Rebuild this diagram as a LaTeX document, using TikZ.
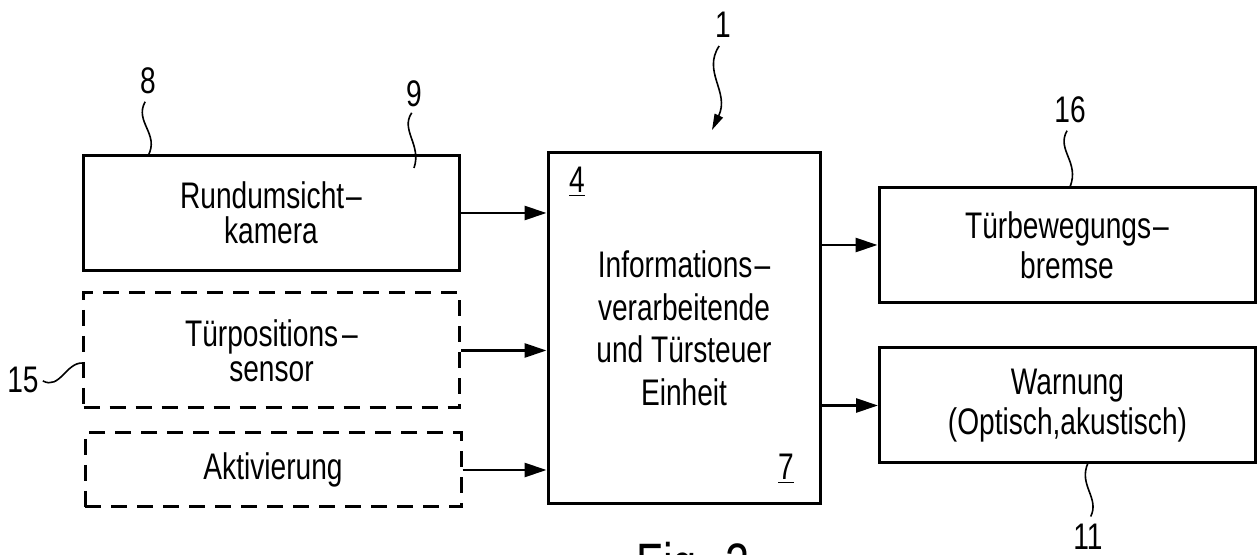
\documentclass[tikz,border=0pt]{standalone}
\usepackage{fontspec}
\setmainfont{Liberation Sans}[FakeStretch=0.76]
\usetikzlibrary{arrows.meta}

\begin{document}
\begin{tikzpicture}[x=0.5pt,y=-0.5pt,
  every node/.style={font=\fontsize{18.5}{17.5}\selectfont},
  box/.style={draw,line width=1.5pt,inner sep=0pt,align=center,
    minimum width=188pt,minimum height=57.5pt},
  dbox/.style={box,dash pattern=on 8pt off 5pt},
  arr/.style={line width=1.4pt,-{Triangle[length=11pt,width=7pt]}},
  lead/.style={line width=0.8pt},
  lbl/.style={inner sep=1pt}]
\useasboundingbox (0,0) rectangle (1260,555);

\node[box] (cam) at (271,213) {Rundumsicht\kern1pt--\\kamera};
\node[dbox] (pos) at (271.5,350.5) {Türpositions\kern2pt--\\sensor};
\node[dbox,minimum height=37pt] (akt) at (273,470) {Aktivierung};

\node[box,minimum width=136pt,minimum height=175.5pt,
  font=\fontsize{18.5}{21.25}\selectfont] (ecu) at (684,328.5)
  {Informations\kern1pt--\\verarbeitende\\und Türsteuer\\Einheit};

\node[box,font=\fontsize{18.5}{20}\selectfont] (brake) at (1067,245) {Türbewegungs\kern1pt--\\bremse};
\node[box,font=\fontsize{18.5}{20}\selectfont] (warn) at (1067.5,405.5) {Warnung\\(Optisch,akustisch)};

\node[lbl,anchor=base] (n4) at (577,193) {\underline{4}};
\node[lbl,anchor=base] (n7) at (786,480) {\underline{7}};

\draw[arr] (cam.east) -- (cam.east -| ecu.west);
\draw[arr] (pos.east) -- (pos.east -| ecu.west);
\draw[arr] (akt.east) -- (akt.east -| ecu.west);
\draw[arr] (brake.west -| ecu.east) -- (brake.west);
\draw[arr] (warn.west -| ecu.east) -- (warn.west);

\node[lbl] (l1) at (723,25) {1};
\node[lbl] (l8) at (148,81) {8};
\node[lbl] (l9) at (414,94) {9};
\node[lbl] (l15) at (23,380) {15};
\node[lbl] (l16) at (1070,110) {16};
\node[lbl] (l11) at (1088,537) {11};

\coordinate (t1) at (712,130);
\coordinate (c8) at (148,156);
\coordinate (c9) at (414,168);
\coordinate (c15) at (83,363);
\coordinate (c16) at (1070,187);
\coordinate (c11) at (1088,463);

\draw[lead,shorten <=3.5pt,-{Triangle[length=8pt,width=4.5pt]}] (l1.south) .. controls (702,72) and (730,92) .. (t1);
\draw[lead,shorten <=3pt] (l8.south) .. controls (134,122) and (160,134) .. (c8);
\draw[lead,shorten <=2pt] (l9.south) .. controls (400,130) and (422,145) .. (c9);
\draw[lead,shorten <=1pt] (l15.east) .. controls (60,390) and (66,362) .. (c15);
\draw[lead,shorten <=3pt] (l16.south) .. controls (1056,150) and (1080,162) .. (c16);
\draw[lead,shorten >=3pt] (c11) .. controls (1078,485) and (1100,498) .. (l11.north);

\node[anchor=base,font=\fontsize{28.5}{30}\selectfont] (fig) at (693,584) {Fig. 2};

\end{tikzpicture}
\end{document}
